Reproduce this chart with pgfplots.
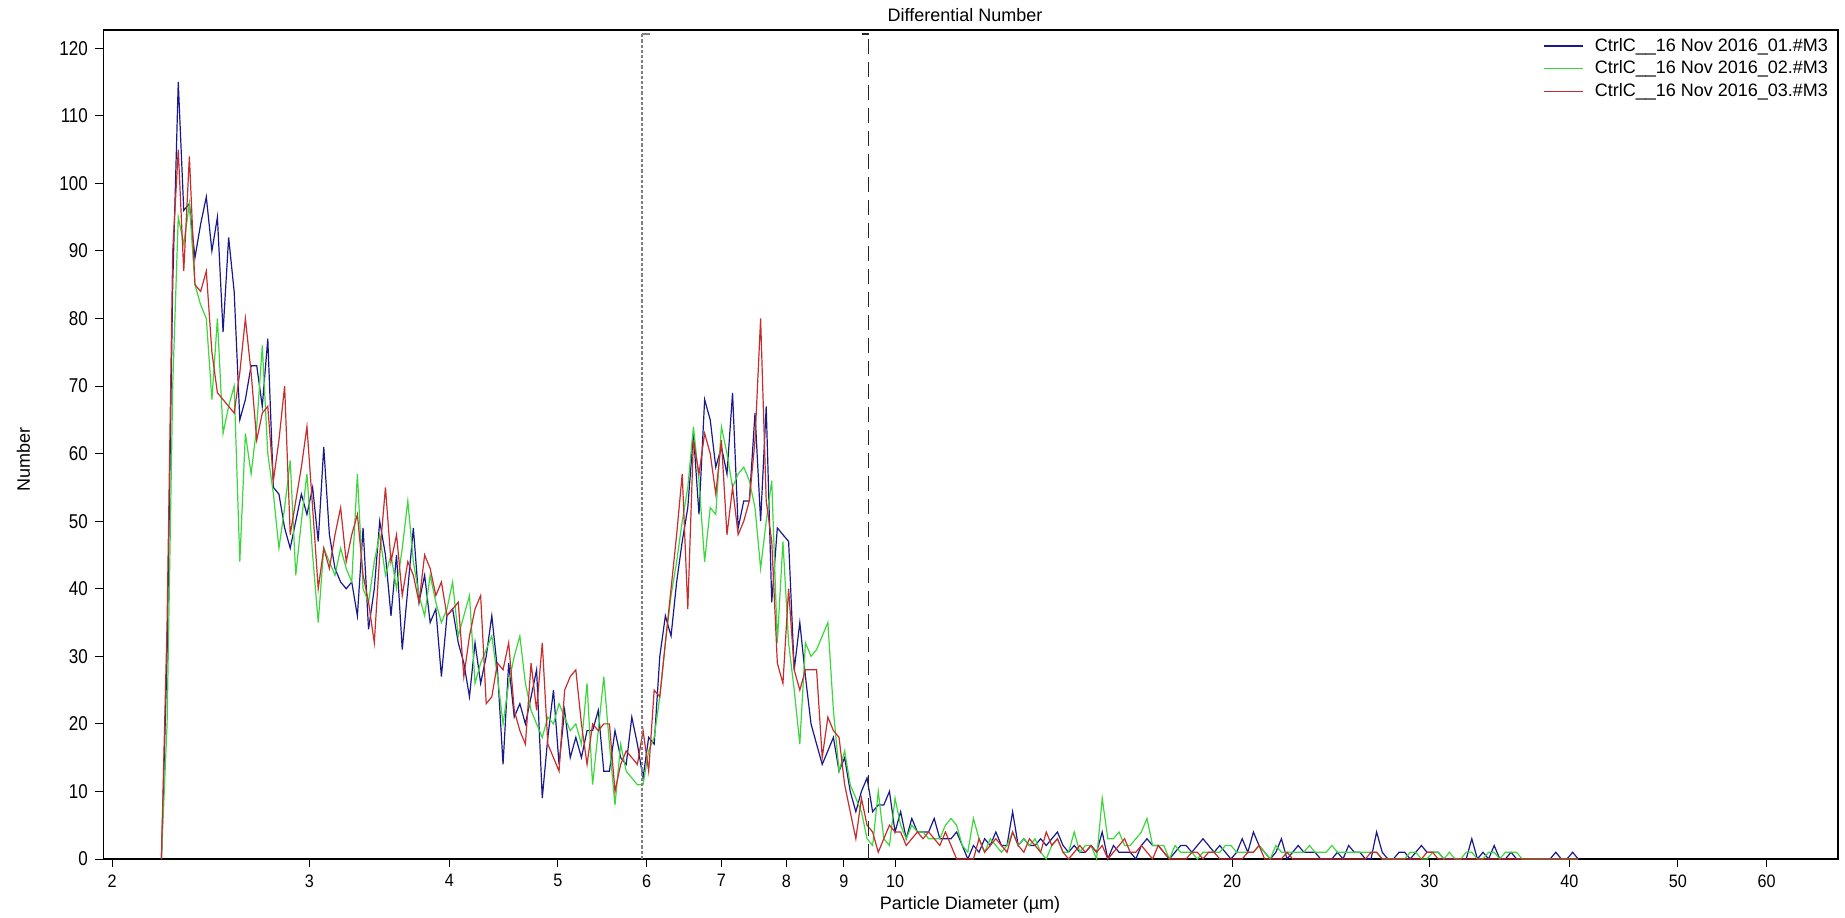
\documentclass[border=0pt]{standalone}
\usepackage{fontspec}
\setmainfont{Liberation Sans}
\usepackage{pgfplots}
\usepackage{pgfplotstable}
\pgfplotsset{compat=1.18}
\definecolor{cblue}{RGB}{25,25,140}
\definecolor{cgreen}{RGB}{60,215,60}
\definecolor{cred}{RGB}{200,45,45}
\pgfplotstableread{
d B G R
2.213 0 0 0
2.239 30 20 35
2.265 85 70 90
2.291 115 95 105
2.317 96 91 87
2.344 97 97 104
2.371 89 85 85
2.399 94 82 84
2.427 98 80 87
2.455 90 68 75
2.483 95 80 69
2.512 78 63 68
2.541 92 67 67
2.570 84 70 66
2.600 65 44 72
2.630 68 63 80
2.661 73 57 72
2.692 73 64 62
2.723 67 76 66
2.754 77 60 67
2.786 55 54 56
2.818 54 46 62
2.851 49 52 70
2.884 46 59 48
2.917 50 42 53
2.951 54 50 58
2.985 51 57 64
3.020 55 45 52
3.055 47 35 40
3.090 61 46 46
3.126 48 44 43
3.162 43 42 48
3.199 41 46 52
3.236 40 43 44
3.273 41 41 48
3.311 36 57 51
3.350 49 40 42
3.388 34 38 38
3.428 40 44 32
3.467 50 48 45
3.508 45 42 55
3.548 36 45 44
3.589 45 40 48
3.631 31 46 39
3.673 40 53 44
3.715 49 44 42
3.758 38 39 38
3.802 42 36 45
3.846 35 42 43
3.891 37 38 39
3.936 27 35 41
3.981 36 37 36
4.027 37 41 37
4.074 32 33 38
4.121 29 36 27
4.169 24 39 33
4.217 32 26 37
4.266 26 29 39
4.315 30 31 23
4.365 36 33 24
4.416 28 27 29
4.467 14 20 28
4.519 29 26 32
4.571 21 30 22
4.624 23 33 19
4.677 20 26 17
4.732 24 22 29
4.786 28 20 22
4.842 9 18 32
4.898 18 21 17
4.955 25 20 15
5.012 14 23 13
5.070 22 21 25
5.129 15 19 27
5.188 18 20 28
5.248 15 17 20
5.309 19 26 14
5.370 19 11 20
5.433 22 19 19
5.495 13 27 20
5.559 13 17 20
5.623 19 8 10
5.689 15 17 14
5.754 14 13 16
5.821 21 12 15
5.888 17 11 14
5.957 12 11 19
6.026 18 16 13
6.095 17 18 25
6.166 30 24 24
6.237 36 32 32
6.310 33 39 40
6.383 41 44 48
6.457 47 50 57
6.531 52 55 37
6.607 63 64 62
6.683 51 56 57
6.761 68 44 63
6.839 65 52 60
6.918 58 51 54
6.998 61 64 62
7.079 57 60 48
7.161 69 55 55
7.244 49 57 48
7.328 53 58 50
7.413 53 56 53
7.499 66 52 62
7.586 50 43 80
7.674 67 50 53
7.762 38 56 47
7.852 49 32 29
7.943 48 47 26
8.035 47 32 40
8.128 28 25 28
8.222 35 17 25
8.318 27 32 28
8.414 20 30 28
8.511 17 31 28
8.610 14 33 15
8.710 16 35 21
8.810 18 22 19
8.913 13 13 18
9.016 15 16 11
9.120 10 11 7
9.226 7 9 3
9.333 10 7 9
9.441 12 3 5
9.550 7 2 4
9.661 8 10 1
9.772 8 3 3
9.886 10 2 5
10.000 4 9 4
10.116 7 5 4
10.233 3 3 2
10.351 6 5 3
10.471 4 4 4
10.593 4 4 3
10.715 4 3 4
10.839 6 3 3
10.965 3 3 2
11.092 3 5 4
11.220 3 6 2
11.350 4 5 0
11.482 2 2 0
11.614 0 1 0
11.749 2 6 0
11.885 1 3 3
12.023 3 1 1
12.162 2 3 2
12.303 4 2 3
12.445 2 1 2
12.589 2 2 1
12.735 7 4 4
12.882 2 2 2
13.032 3 3 1
13.183 2 2 3
13.335 2 3 2
13.490 3 1 1
13.646 2 0 4
13.804 3 2 2
13.964 4 3 3
14.125 2 1 1
14.289 1 1 0
14.454 2 4 1
14.622 1 1 2
14.791 1 2 1
14.962 2 2 2
15.136 1 0 1
15.311 4 9 2
15.488 0 3 0
15.668 2 3 1
15.849 1 4 2
16.032 1 2 3
16.218 1 2 1
16.406 0 3 1
16.596 2 4 2
16.788 3 6 1
16.982 2 2 0
17.179 2 2 2
17.378 1 2 1
17.579 0 0 0
17.783 1 2 0
17.989 2 1 0
18.197 2 1 0
18.408 1 1 1
18.621 2 0 1
18.836 3 1 0
19.055 2 1 1
19.275 1 1 1
19.498 2 1 0
19.724 1 2 0
19.953 0 2 0
20.184 1 1 0
20.417 3 1 0
20.654 1 1 1
20.893 4 1 1
21.135 2 2 2
21.380 1 1 0
21.627 0 0 0
21.878 1 2 0
22.131 3 1 0
22.387 0 1 1
22.646 1 1 0
22.909 2 1 0
23.174 1 1 0
23.442 1 2 0
23.714 1 1 0
23.988 0 1 0
24.266 0 1 0
24.547 0 2 0
24.831 1 1 0
25.119 0 1 0
25.410 2 1 0
25.704 1 1 0
26.002 1 1 0
26.303 0 1 0
26.607 0 1 1
26.915 4 1 1
27.227 1 0 0
27.542 0 0 0
27.861 0 0 0
28.184 1 0 0
28.510 1 0 0
28.840 0 1 0
29.174 1 1 0
29.512 2 0 0
29.854 1 0 1
30.200 1 1 1
30.549 1 1 0
30.903 0 0 0
31.261 0 1 0
31.623 0 0 0
31.989 0 0 0
32.359 0 1 0
32.734 3 1 0
33.113 0 0 0
33.497 1 0 0
33.884 0 1 0
34.277 2 1 0
34.674 0 0 0
35.075 0 1 0
35.481 1 1 0
35.892 0 1 0
36.308 0 0 0
36.728 0 0 0
37.154 0 0 0
37.584 0 0 0
38.019 0 0 0
38.459 0 0 0
38.905 1 0 0
39.355 0 0 0
39.811 0 0 0
40.272 1 0 0
40.738 0 0 0
}\psddata

\newcommand{\tl}[1]{\scalebox{0.9}[1]{#1}}

\begin{document}
\begin{tikzpicture}
\begin{axis}[
  scale only axis,
  width=867.35pt, height=414.5pt,
  xmode=log,
  xmin=1.964, xmax=69.5,
  ymin=0, ymax=122.7,
  xtick={2,3,4,5,6,7,8,9,10,20,30,40,50,60},
  xticklabels={\tl{2},\tl{3},\tl{4},\tl{5},\tl{6},\tl{7},\tl{8},\tl{9},\tl{10},\tl{20},\tl{30},\tl{40},\tl{50},\tl{60}},
  xminorticks=false,
  ytick={0,10,20,30,40,50,60,70,80,90,100,110,120},
  yticklabel={\scalebox{0.85}[1]{\pgfmathprintnumber{\tick}}},
  tick align=outside,
  xtick pos=bottom, ytick pos=left,
  major tick length=4.2pt,
  tick style={black, line width=0.5pt},
  axis line style={black, line width=0.6pt},
  xticklabel style={font=\fontsize{9}{10.5}\selectfont},
  yticklabel style={font=\fontsize{10}{11.5}\selectfont},
  /pgf/number format/assume math mode=true,
  xlabel={Particle Diameter (µm)},
  ylabel={Number},
  title={Differential Number},
  every axis title shift=0pt,
  label style={font=\fontsize{9}{10.8}\selectfont},
  title style={font=\fontsize{9}{10.8}\selectfont, at={(axis description cs:0.4967,1.0181)}, anchor=center},
  xlabel style={at={(axis description cs:0.4996,-0.0549)}, anchor=center},
  ylabel style={at={(axis description cs:-0.046,0.4825)}, anchor=center},
  clip=false,
  legend cell align=left,
  legend image code/.code={\draw[#1] (0pt,0pt) -- (19.5pt,0pt);},
  legend style={draw=none, fill=none, at={(axis description cs:0.9955,0.993)}, anchor=north east,
    font=\fontsize{9}{10.9}\selectfont, inner sep=0pt, row sep=1.5pt,
    nodes={inner sep=0.9pt},
    /tikz/every odd column/.append style={column sep=4.5pt}},
]
\addplot[cblue, line width=0.6pt] table[x=d, y=B] {\psddata};
\addlegendentry{CtrlC\_\_16 Nov 2016\_01.\#M3}
\addplot[cgreen, line width=0.6pt] table[x=d, y=G] {\psddata};
\addlegendentry{CtrlC\_\_16 Nov 2016\_02.\#M3}
\addplot[cred, line width=0.6pt] table[x=d, y=R] {\psddata};
\addlegendentry{CtrlC\_\_16 Nov 2016\_03.\#M3}
\draw[gray, line width=0.6pt, dash pattern=on 1.6pt off 1pt] (axis cs:5.945,0) -- (axis cs:5.945,122.1);
\draw[gray, line width=0.6pt] (axis cs:5.945,122.1) -- ([xshift=3.8pt]axis cs:5.945,122.1);
\draw[black!85, line width=0.6pt, dash pattern=on 7.5pt off 4pt] (axis cs:9.47,0) -- (axis cs:9.47,122.1);
\draw[black!85, line width=0.6pt] (axis cs:9.47,122.1) -- ([xshift=-3.4pt]axis cs:9.47,122.1);
\end{axis}
\pgfresetboundingbox
\path[use as bounding box] (-51.65pt,-29pt) rectangle (870.85pt,429.5pt);
\end{tikzpicture}
\end{document}
